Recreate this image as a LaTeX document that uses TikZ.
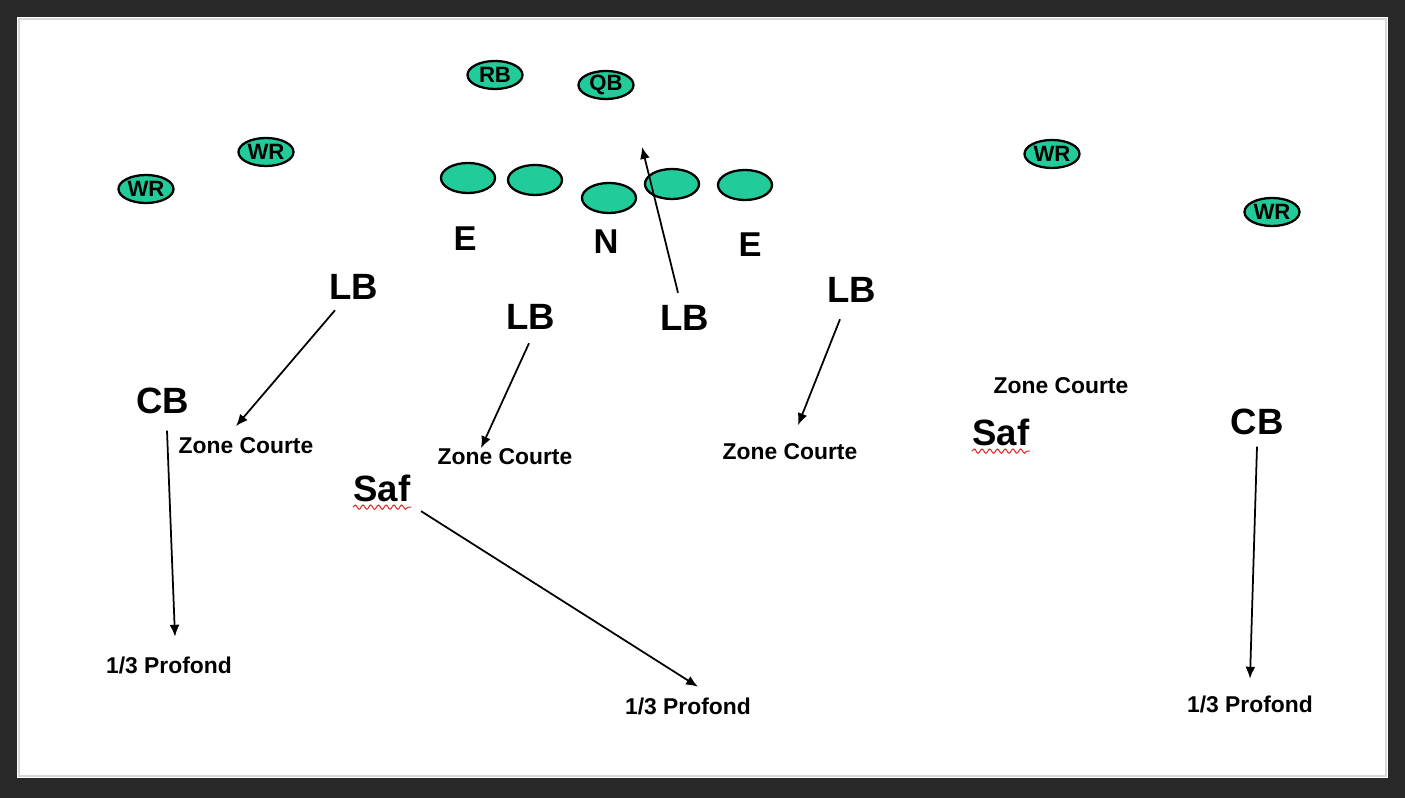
\documentclass[tikz,border=0pt]{standalone}
\usepackage{fontspec}
\setmainfont{Liberation Sans}
\usetikzlibrary{arrows.meta,shapes.geometric,decorations.pathmorphing}
\definecolor{FrameGrey}{RGB}{40,40,40}
\definecolor{EdgeGrey}{RGB}{215,215,215}
\definecolor{Mint}{RGB}{34,204,154}
\definecolor{SpellRed}{RGB}{225,45,45}
\tikzset{
  player/.style={ellipse,draw=black,fill=Mint,line width=0.65pt,
    minimum width=0.55cm,minimum height=0.28cm,inner sep=0pt,
    font=\fontsize{6.3}{7}\selectfont\bfseries},
  lineman/.style={player,minimum width=0.54cm,minimum height=0.3cm},
  defender/.style={inner sep=0pt,font=\fontsize{10.4}{12}\selectfont\bfseries},
  frontman/.style={inner sep=0pt,font=\fontsize{9.8}{12}\selectfont\bfseries},
  zone/.style={inner sep=0pt,font=\fontsize{6.5}{8}\selectfont\bfseries},
  arrow/.style={-{Latex[length=3.4pt,width=2.8pt]},line width=0.5pt},
  spell/.style={SpellRed,line width=0.3pt,decorate,
    decoration={snake,segment length=2.2pt,amplitude=0.6pt}}
}

\begin{document}
\begin{tikzpicture}[x=0.01cm,y=-0.01cm]
  \fill[FrameGrey] (0,0) rectangle (1405,798);
  \fill[white] (17,17) rectangle (1388,778);
  \draw[EdgeGrey,line width=0.4pt] (19,19) rectangle (1386,776);

  % offense
  \node[player] (rb) at (495,75) {RB};
  \node[player] (qb) at (606,85) {QB};
  \node[player] (wr1) at (146,189) {WR};
  \node[player] (wr2) at (266,152) {WR};
  \node[player] (wr3) at (1052,154) {WR};
  \node[player] (wr4) at (1272,212) {WR};
  \node[lineman] (ol1) at (468,178) {};
  \node[lineman] (ol2) at (535,180) {};
  \node[lineman] (ol3) at (609,198) {};
  \node[lineman] (ol4) at (672,184) {};
  \node[lineman] (ol5) at (745,185) {};

  % defense
  \node[frontman] (e1) at (465,239) {E};
  \node[frontman] (nose) at (606,242) {N};
  \node[frontman] (e2) at (750,245) {E};
  \node[defender] (lb1) at (354,287) {LB};
  \node[defender] (lb2) at (531,317) {LB};
  \node[defender] (lb3) at (685,318) {LB};
  \node[defender] (lb4) at (852,290) {LB};
  \node[defender] (cb1) at (163,401) {CB};
  \node[defender] (cb2) at (1257,422) {CB};
  \node[defender] (saf1) at (382,488) {Saf};
  \node[defender] (saf2) at (1001,432) {Saf};

  % zones
  \node[zone] (zc1) at (246,446) {Zone Courte};
  \node[zone] (zc2) at (505,457) {Zone Courte};
  \node[zone] (zc3) at (790,452) {Zone Courte};
  \node[zone] (zc4) at (1061,386) {Zone Courte};
  \node[zone] (deep1) at (169,665) {1/3 Profond};
  \node[zone] (deep2) at (688,706) {1/3 Profond};
  \node[zone] (deep3) at (1250,704) {1/3 Profond};
  \coordinate (blitz) at (642,147);

  \draw[arrow] ([shift={(-19,10)}]lb1.south) -- ([shift={(-10,-11)}]zc1.north);
  \draw[arrow] ([shift={(-2,13)}]lb2.south) -- ([shift={(-24,0)}]zc2.north);
  \draw[arrow] ([shift={(-7,-12)}]lb3.north) -- (blitz);
  \draw[arrow] ([shift={(-12,16)}]lb4.south) -- ([shift={(8,-18)}]zc3.north);
  \draw[arrow] ([shift={(4,16)}]cb1.south) -- ([shift={(6,-19)}]deep1.north);
  \draw[arrow] ([shift={(39,9)}]saf1.south) -- ([shift={(10,-10)}]deep2.north);
  \draw[arrow] ([shift={(0,11)}]cb2.south) -- ([shift={(0,-16)}]deep3.north);

  \draw[spell] ([shift={(0,5)}]saf1.south west) -- ([shift={(0,5)}]saf1.south east);
  \draw[spell] ([shift={(0,5)}]saf2.south west) -- ([shift={(0,5)}]saf2.south east);
\end{tikzpicture}
\end{document}
